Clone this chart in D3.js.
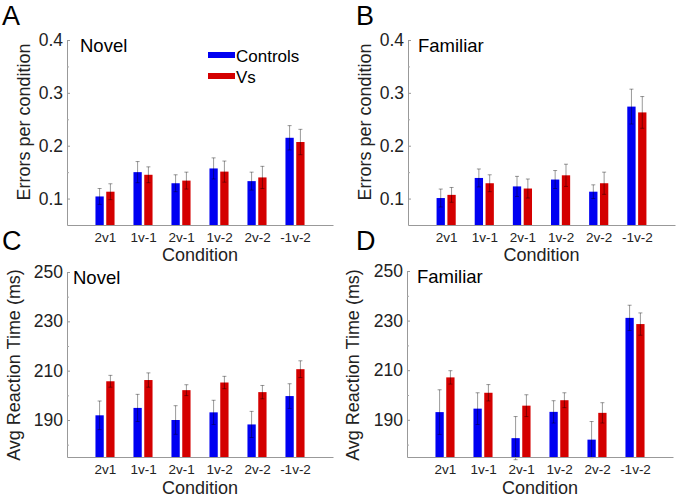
<!DOCTYPE html>
<html><head><meta charset="utf-8">
<script src="https://cdn.jsdelivr.net/npm/d3@7"></script>
<style>
body{margin:0;background:#fff;}
svg{display:block;font-family:"Liberation Sans",Arial,sans-serif;}
</style></head>
<body>
<svg id="chart" width="677" height="498"></svg>
<script>
const categories = ["2v1","1v-1","2v-1","1v-2","2v-2","-1v-2"];
const seriesNames = ["Controls","Vs"];
const seriesColors = ["#0000f2","#d40000"];

// Panel A: errors, novel
const errNovelControls = [0.104,0.150,0.129,0.157,0.133,0.215];
const errNovelControlsUp = [0.119,0.170,0.145,0.177,0.150,0.238];
const errNovelVs = [0.113,0.145,0.134,0.151,0.140,0.207];
const errNovelVsUp = [0.128,0.160,0.150,0.171,0.161,0.231];
// Panel B: errors, familiar
const errFamControls = [0.101,0.139,0.123,0.136,0.113,0.274];
const errFamControlsUp = [0.118,0.156,0.142,0.153,0.126,0.307];
const errFamVs = [0.107,0.129,0.119,0.144,0.129,0.263];
const errFamVsUp = [0.121,0.145,0.137,0.165,0.150,0.293];
// Panel C: RT, novel
const rtNovelControls = [191.9,194.9,190.0,193.1,188.2,199.7];
const rtNovelControlsUp = [197.7,200.4,195.8,198.0,193.5,204.7];
const rtNovelVs = [205.7,206.2,202.1,205.2,201.3,210.6];
const rtNovelVsUp = [208.1,209.1,204.3,207.7,204.0,214.0];
// Panel D: RT, familiar
const rtFamControls = [193.1,194.5,182.6,193.2,182.0,231.1];
const rtFamControlsUp = [202.1,200.9,191.3,197.7,189.3,236.2];
const rtFamVs = [207.1,200.9,195.7,197.9,192.8,228.6];
const rtFamVsUp = [209.8,204.2,200.1,200.9,196.9,233.1];

const errMajorTicks = [0.1,0.2,0.3,0.4];
const errMinorTicks = [0.15,0.25,0.35];
const rtMajorTicks = [190,210,230,250];
const rtMinorTicks = [180,200,220,240];

const svg = d3.select("#chart");
const FONT = "Liberation Sans, Arial, sans-serif";

function panel(cfg){
  const g = svg.append("g");
  const x = d3.scaleLinear().domain([0,7]).range([cfg.x0, cfg.x1]);
  const y = d3.scaleLinear().domain(cfg.yDomain).range([cfg.yBottom, cfg.yTop]);
  const barW = 0.218, off = 0.142;
  const series = [
    {vals: cfg.c, up: cfg.cu, color: seriesColors[0], dx: -off},
    {vals: cfg.v, up: cfg.vu, color: seriesColors[1], dx: off}
  ];
  series.forEach(s => {
    g.selectAll(null).data(categories).enter().append("rect")
      .attr("x", (d,i) => x(i+1+s.dx-barW/2))
      .attr("width", x(barW)-x(0))
      .attr("y", (d,i) => y(s.vals[i]))
      .attr("height", (d,i) => y(cfg.yDomain[0]) - y(s.vals[i]))
      .attr("fill", s.color);
  });
  // error bars
  series.forEach(s => {
    categories.forEach((d,i) => {
      const cx = x(i+1+s.dx);
      const lo = s.vals[i] - (s.up[i]-s.vals[i]);
      const eg = g.append("g").attr("stroke","#000").attr("stroke-opacity",0.4).attr("stroke-width",1);
      eg.append("line").attr("x1",cx).attr("x2",cx).attr("y1",y(s.up[i])).attr("y2",y(lo));
      eg.append("line").attr("x1",cx-2).attr("x2",cx+2).attr("y1",y(s.up[i])).attr("y2",y(s.up[i]));
      eg.append("line").attr("x1",cx-2).attr("x2",cx+2).attr("y1",y(lo)).attr("y2",y(lo));
    });
  });
  // axes
  const yAxis = g.append("g").attr("transform",`translate(${cfg.x0},0)`)
    .call(d3.axisLeft(y).tickValues(cfg.major).tickSizeInner(-3).tickSizeOuter(0).tickPadding(4).tickFormat(cfg.fmt));
  yAxis.select(".domain").attr("stroke","#999");
  yAxis.selectAll(".tick line").attr("stroke","#999");
  yAxis.selectAll(".tick text").attr("fill","#222").attr("font-size",17.5).attr("font-family",FONT);
  const minor = g.append("g").attr("transform",`translate(${cfg.x0},0)`)
    .call(d3.axisLeft(y).tickValues(cfg.minor).tickSizeInner(-2).tickSizeOuter(0).tickFormat(""));
  minor.select(".domain").remove();
  minor.selectAll(".tick line").attr("stroke","#aaa");
  const xAxis = g.append("g").attr("transform",`translate(0,${cfg.yBottom})`)
    .call(d3.axisBottom(x).tickValues(d3.range(1,7)).tickSize(0).tickPadding(7).tickFormat((d)=>categories[d-1]));
  xAxis.select(".domain").attr("stroke","#999");
  xAxis.selectAll(".tick text").attr("fill","#222").attr("font-size",13.5).attr("font-family",FONT);
  // x label
  g.append("text").attr("x",(cfg.x0+cfg.x1)/2).attr("y",cfg.yBottom+cfg.xlabDy)
    .attr("text-anchor","middle").attr("font-size",18).attr("fill","#222").text("Condition");
  // y label
  g.append("text").attr("transform",`translate(${cfg.x0-cfg.ylabDx},${cfg.ylabY}) rotate(-90)`)
    .attr("text-anchor","middle").attr("font-size",18).attr("fill","#222").text(cfg.ylabel);
  // title inside
  g.append("text").attr("x",cfg.x0+cfg.titleDx).attr("y",cfg.yTop+12)
    .attr("font-size",18.5).attr("fill","#000").text(cfg.title);
  // panel letter
  g.append("text").attr("x",cfg.letterX).attr("y",cfg.letterY)
    .attr("font-size",27).attr("fill","#000").text(cfg.letter);
  return {g,x,y};
}

const fmtErr = d3.format(".1f");
const fmtRt = d3.format("d");

const pA = panel({x0:67,x1:333,yTop:40,yBottom:225,yDomain:[0.05,0.4],major:errMajorTicks,minor:errMinorTicks,fmt:fmtErr,
  c:errNovelControls,cu:errNovelControlsUp,v:errNovelVs,vu:errNovelVsUp,ylabel:"Errors per condition",ylabDx:37,ylabY:122,xlabDy:36,
  title:"Novel",titleDx:13,letter:"A",letterX:2,letterY:25});
panel({x0:408,x1:675,yTop:40,yBottom:225,yDomain:[0.05,0.4],major:errMajorTicks,minor:errMinorTicks,fmt:fmtErr,
  c:errFamControls,cu:errFamControlsUp,v:errFamVs,vu:errFamVsUp,ylabel:"Errors per condition",ylabDx:37,ylabY:122,xlabDy:36,
  title:"Familiar",titleDx:10,letter:"B",letterX:356,letterY:25});
panel({x0:67,x1:333,yTop:272,yBottom:457,yDomain:[175,250],major:rtMajorTicks,minor:rtMinorTicks,fmt:fmtRt,
  c:rtNovelControls,cu:rtNovelControlsUp,v:rtNovelVs,vu:rtNovelVsUp,ylabel:"Avg Reaction Time (ms)",ylabDx:47,ylabY:365,xlabDy:37,
  title:"Novel",titleDx:6,letter:"C",letterX:2,letterY:250});
panel({x0:407,x1:673,yTop:271,yBottom:457,yDomain:[175,250],major:rtMajorTicks,minor:rtMinorTicks,fmt:fmtRt,
  c:rtFamControls,cu:rtFamControlsUp,v:rtFamVs,vu:rtFamVsUp,ylabel:"Avg Reaction Time (ms)",ylabDx:48,ylabY:365,xlabDy:37,
  title:"Familiar",titleDx:10,letter:"D",letterX:356,letterY:250});

// legend in panel A
const legend = pA.g.append("g");
seriesNames.forEach((n,i) => {
  legend.append("rect").attr("x",208).attr("y",52+i*21).attr("width",27).attr("height",6).attr("fill",seriesColors[i]);
  legend.append("text").attr("x",236).attr("y",62+i*21).attr("font-size",17).attr("fill","#000").text(n);
});
</script>
</body></html>
